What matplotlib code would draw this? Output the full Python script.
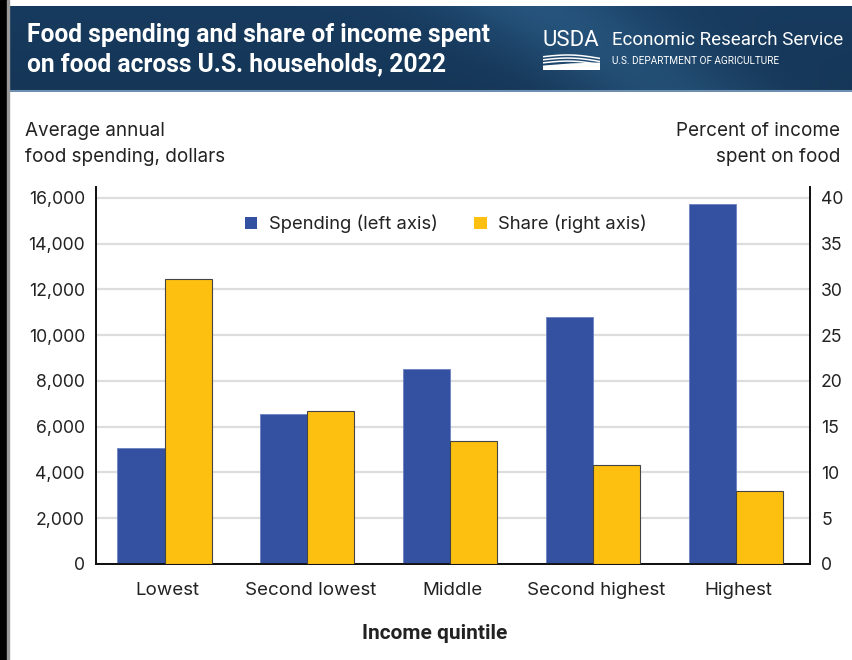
import numpy as np
import matplotlib
matplotlib.use("Agg")
import matplotlib.pyplot as plt
from matplotlib.patches import Rectangle, Polygon

# data
quintiles = ["Lowest", "Second lowest", "Middle", "Second highest", "Highest"]
spending = [5070, 6540, 8530, 10800, 15720]
share = [31.2, 16.7, 13.4, 10.8, 8.0]
left_ticks = [0, 2000, 4000, 6000, 8000, 10000, 12000, 14000, 16000]
right_ticks = [0, 5, 10, 15, 20, 25, 30, 35, 40]

blue = "#3450a1"
yellow = "#fdc010"
txt = "#222222"

plt.rcParams["font.family"] = ["Inter", "DejaVu Sans"]
head = ["Roboto", "DejaVu Sans"]

fig = plt.figure(figsize=(8.52, 6.6), dpi=100)
W, H = 852.0, 660.0

# background frame: black strip at left and top
fig.patches.append(Rectangle((0, 0), 7 / W, 1, transform=fig.transFigure, color="black", zorder=0))
fig.patches.append(Rectangle((7 / W, 0), 1.5 / W, 1, transform=fig.transFigure, color="#9a9a9a", zorder=0))

# banner with gradient
bax = fig.add_axes([7 / W, 1 - 92 / H, 1 - 7 / W, 86 / H])
gx = np.linspace(0, 1, 400)
gy = np.linspace(0, 1, 60)
X, Y = np.meshgrid(gx, gy)
band = np.exp(-((X - 0.78 + 0.15 * Y) / 0.12) ** 2)
base = np.array([0.09, 0.23, 0.37])
light = np.array([0.15, 0.33, 0.49])
img = base[None, None, :] + (light - base)[None, None, :] * band[:, :, None]
img = img * (0.92 + 0.08 * Y[:, :, None])
bax.imshow(img, aspect="auto", extent=[0, 1, 0, 1], origin="lower")
bax.axhline(0.01, color="#6e90b0", lw=1.5)
bax.set_xlim(0, 1)
bax.set_ylim(0, 1)
bax.axis("off")

fig.text(27 / W, 1 - 35 / H, "Food spending and share of income spent", color="white",
         fontsize=17.7, fontweight="bold", va="center", ha="left", family=head)
fig.text(27 / W, 1 - 64 / H, "on food across U.S. households, 2022", color="white",
         fontsize=17.7, fontweight="bold", va="center", ha="left", family=head)

# USDA logo
fig.text(542 / W, 1 - 40 / H, "USDA", color="white", fontsize=16, va="center", ha="left",
         family=head)
lax = fig.add_axes([543 / W, 1 - 70 / H, 57 / W, 17 / H])
lx = np.linspace(0, 1, 50)
for off in [0.78, 0.6, 0.42]:
    lax.plot(lx, off + 0.15 * np.sin(np.pi * lx) - 0.1 * lx, color="white", lw=1.1)
lax.add_patch(Polygon([[0, 0], [1, 0], [1, 0.4], [0.5, 0.35], [0, 0.22]], closed=True, color="white"))
lax.set_xlim(0, 1)
lax.set_ylim(0, 1)
lax.axis("off")

fig.text(612 / W, 1 - 40 / H, "Economic Research Service", color="white", fontsize=13.5,
         va="center", ha="left", family=head)
fig.text(612 / W, 1 - 61 / H, "U.S. DEPARTMENT OF AGRICULTURE", color="white", fontsize=7.2,
         va="center", ha="left", family=head)

# main chart
ax = fig.add_axes([96 / W, 1 - 564 / H, (810 - 96) / W, (564 - 187) / H])
x = np.arange(len(quintiles))
wd = 0.33
ax.bar(x - wd / 2 - 0.02, spending, wd, color=blue, edgecolor="#6a82c4", linewidth=0.6, zorder=3,
       label="Spending (left axis)")
ax.set_ylim(0, 16480)
ax.set_xlim(-0.5, 4.5)
ax.set_yticks(left_ticks)
ax.set_yticklabels([f"{v:,}" for v in left_ticks])
ax.grid(axis="y", color="#dddddd", lw=1.6, zorder=0)
ax.set_axisbelow(True)

ax2 = ax.twinx()
ax2.bar(x + wd / 2 - 0.02, share, wd, color=yellow, edgecolor="#444444", linewidth=0.8, zorder=3,
        label="Share (right axis)")
ax2.set_ylim(0, 41.2)
ax2.set_yticks(right_ticks)

for a in (ax, ax2):
    a.spines["top"].set_visible(False)
    for s in ("left", "right", "bottom"):
        a.spines[s].set_color("#111111")
        a.spines[s].set_linewidth(1.3)
    a.tick_params(axis="y", length=0, labelsize=12.7, labelcolor=txt, pad=8)
ax.tick_params(axis="x", length=0, labelsize=13.5, labelcolor=txt, pad=13)
ax.set_xticks(x)
ax.set_xticklabels(quintiles)

ax.set_xlabel("Income quintile", fontsize=15, fontweight="bold", color=txt, family=head)
ax.xaxis.set_label_coords(0.475, -0.16)

fig.text(25 / W, 1 - 131 / H, "Average annual", fontsize=13.6, color=txt, va="center", ha="left")
fig.text(25 / W, 1 - 157 / H, "food spending, dollars", fontsize=13.6, color=txt, va="center", ha="left")
fig.text(840 / W, 1 - 131 / H, "Percent of income", fontsize=13.6, color=txt, va="center", ha="right")
fig.text(840 / W, 1 - 157 / H, "spent on food", fontsize=13.6, color=txt, va="center", ha="right")

h1, l1 = ax.get_legend_handles_labels()
h2, l2 = ax2.get_legend_handles_labels()
leg = ax2.legend(h1 + h2, l1 + l2, loc="upper center", bbox_to_anchor=(0.49, 0.97), ncol=2,
                 frameon=False, fontsize=13.3, handlelength=0.7, handleheight=0.7,
                 handletextpad=0.6, columnspacing=2.0)
for t in leg.get_texts():
    t.set_color(txt)
for hnd in leg.legend_handles:
    hnd.set_linewidth(0)

fig.savefig("out.png", dpi=100)
